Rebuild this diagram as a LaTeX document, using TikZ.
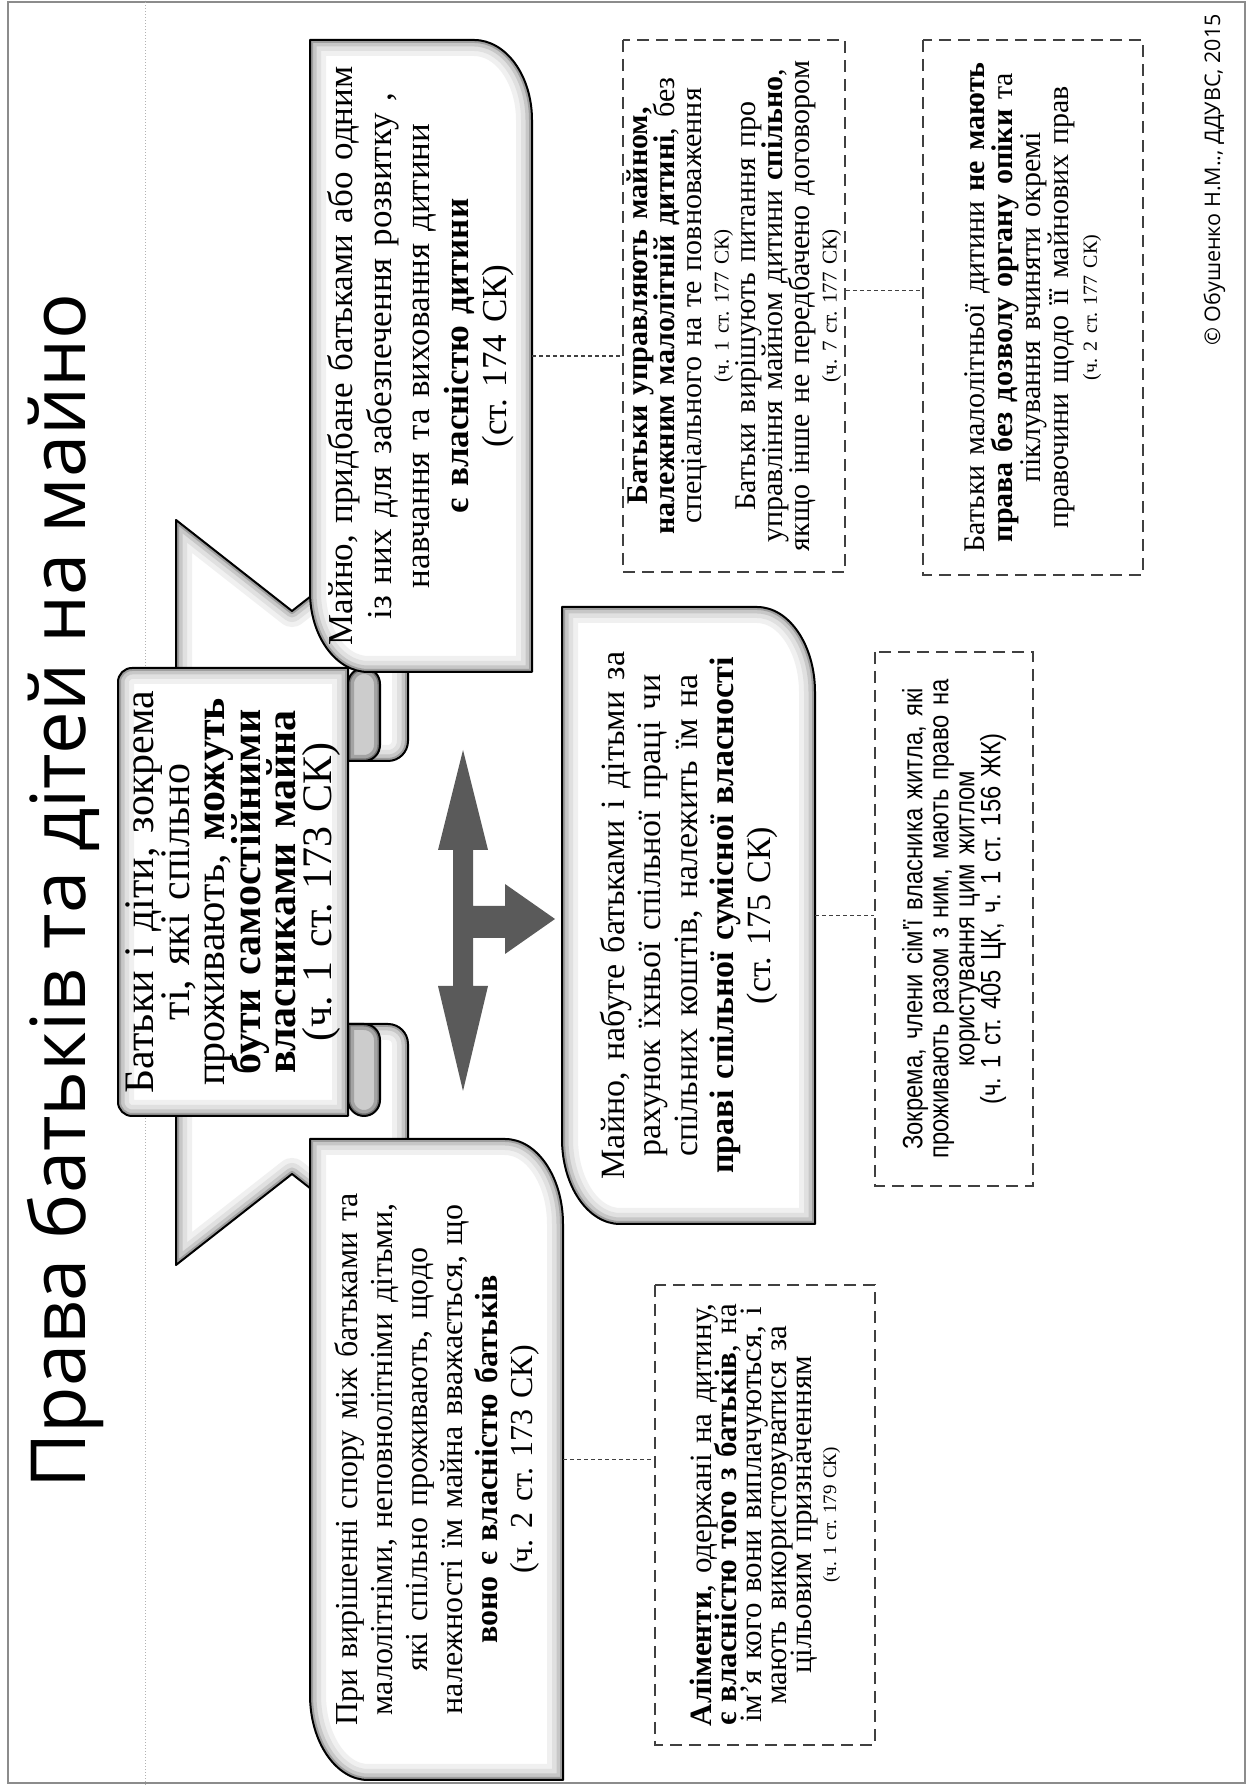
\documentclass[tikz,border=0pt]{standalone}
\usepackage{fontspec}
\setmainfont{Liberation Serif}
\newfontfamily\opensans{Open Sans}
\newfontfamily\narrowsans[FakeStretch=0.85]{Liberation Sans}
\usetikzlibrary{calc}
\definecolor{arrowgray}{HTML}{5A5A5A}
\definecolor{dashgray}{HTML}{404040}
\newcommand{\glowpath}[1]{%
  \fill[white] #1;
  \begin{scope}
    \clip #1;
    \draw[line width=32pt, black!6, line join=round] #1;
    \draw[line width=22pt, black!12, line join=round] #1;
    \draw[line width=13pt, black!22, line join=round] #1;
    \draw[line width=6pt, black!38, line join=round] #1;
  \end{scope}
  \draw[line width=2pt, black, line join=round] #1;
}
\newcommand{\tubepath}[1]{%
  \fill[black!20] #1;
  \begin{scope}
    \clip #1;
    \draw[line width=12pt, black!36] #1;
    \draw[line width=5pt, black!55] #1;
  \end{scope}
  \draw[line width=2pt, black, line join=round] #1;
}
\newcommand{\smallref}[2]{{\fontsize{#1}{#1}\selectfont\spaceskip=0.2em plus 0.05em\relax #2}}
\tikzset{
  tbox/.style={inner sep=0pt, align=center},
  dbox/.style={draw=dashgray, line width=1.6pt, dash pattern=on 12pt off 7pt, inner sep=0pt, align=center},
  conn/.style={draw=dashgray, line width=1.2pt, dash pattern=on 4pt off 3pt},
}
\begin{document}
\frenchspacing
\begin{tikzpicture}[x=1pt,y=1pt]
\begin{scope}[shift={(1248,0)}, rotate=90, every node/.style={transform shape}]
\useasboundingbox (0,0) rectangle (1785,1248);
\fill[white] (0,0) rectangle (1785,1248);
\draw[black!45, line width=2.5pt] (2,3) rectangle (1783,1240);
\draw[black!30, dotted, line width=1pt] (0,1103) -- (1785,1103);

% title and copyright
\node[anchor=base, inner sep=0pt, font={\opensans\fontsize{76}{80}\selectfont}] (title) at (894,1163) {Права батьків та дітей на майно};
\node[anchor=base, inner sep=0pt, font={\opensans\fontsize{21.5}{24}\selectfont}] (copy) at (1605,28) {© Обушенко Н.М.., ДДУВС, 2015};

% ribbon flags
\glowpath{(1024,1072) -- (1265,1072) -- (1174,956) -- (1265,840) -- (1044,840) arc[start angle=270, end angle=180, radius=20] -- cycle}
\glowpath{(761,1072) -- (520,1072) -- (611,956) -- (520,840) -- (741,840) arc[start angle=270, end angle=360, radius=20] -- cycle}
% scroll panel
\glowpath{(669,900) -- (669,1116) arc[start angle=180, end angle=90, radius=14] -- (1103,1130) arc[start angle=90, end angle=0, radius=14] -- (1117,900) -- cycle}
% curls
\tubepath{(1024,900) -- (1024,884) arc[start angle=180, end angle=270, radius=16] -- (1101,868) arc[start angle=-90, end angle=90, radius=16] -- cycle}
\tubepath{(761,900) -- (761,884) arc[start angle=0, end angle=-90, radius=16] -- (685,868) arc[start angle=270, end angle=90, radius=16] -- cycle}

% rounded boxes
\glowpath{(1113,880) arc[start angle=180, end angle=90, x radius=80, y radius=58] -- (1745,938) -- (1745,774) arc[start angle=0, end angle=-90, x radius=80, y radius=58] -- (1113,716) -- cycle}
\glowpath{(561,628) arc[start angle=180, end angle=90, x radius=85, y radius=58] -- (1178,686) -- (1178,491) arc[start angle=0, end angle=-90, x radius=85, y radius=58] -- (561,433) -- cycle}
\glowpath{(5,880) arc[start angle=180, end angle=90, x radius=85, y radius=58] -- (646,938) -- (646,743) arc[start angle=0, end angle=-90, x radius=85, y radius=58] -- (5,685) -- cycle}

% three-way arrow
\fill[arrowgray] (1035,785) -- (935,810) -- (935,795) -- (799,795) -- (799,810) -- (694,785) -- (799,760) -- (799,775) -- (847,775) -- (847,743) -- (831,743) -- (866,693) -- (901,743) -- (879,743) -- (879,775) -- (935,775) -- (935,760) -- cycle;

% text of shapes
\node[tbox, text width=448pt, minimum height=230pt, font={\fontsize{42}{35.5}\selectfont\lineskiplimit=-100pt}] (S) at (893,1015)
 {Батьки і діти, зокрема\\ ті, які спільно\\ проживають, \textbf{можуть}\\ \textbf{бути самостійними}\\ \textbf{власниками майна}\\ (ч. 1 ст. 173 СК)};
\node[tbox, text width=632pt, minimum height=222pt, font={\fontsize{35}{38.5}\selectfont\lineskiplimit=-100pt}] (A) at (1429,827)
 {Майно, придбане батьками або одним\\ із них для забезпечення розвитку ,\\ навчання та виховання дитини\\ \textbf{є власністю дитини}\\ (ст. 174 СК)};
\node[tbox, text width=617pt, minimum height=253pt, font={\fontsize{34}{36.5}\selectfont\lineskiplimit=-100pt}] (B) at (869.5,559.5)
 {Майно, набуте батьками і дітьми за\\ рахунок їхньої спільної праці чи\\ спільних коштів, належить їм на\\ \textbf{праві спільної сумісної власності}\\ (ст. 175 СК)};
\node[tbox, text width=641pt, minimum height=253pt, font={\fontsize{32}{35}\selectfont\lineskiplimit=-100pt}] (D) at (325.5,811.5)
 {При вирішенні спору між батьками та\\ малолітніми, неповнолітніми дітьми,\\ які спільно проживають, щодо\\ належності їм майна вважається, що\\ \textbf{воно є власністю батьків}\\ (ч. 2 ст. 173 СК)};

% dashed boxes
\node[dbox, text width=532pt, minimum height=222pt, font={\fontsize{30}{27}\selectfont\lineskiplimit=-100pt}] (E) at (1479,514)
 {\textbf{Батьки управляють майном,}\\ \textbf{належним малолітній дитині}, без\\ спеціального на те повноваження\\ \smallref{21}{(ч. 1 ст. 177 СК)}\\ Батьки вирішують питання про\\ управління майном дитини \textbf{спільно},\\ якщо інше не передбачено договором\\ \smallref{21}{(ч. 7 ст. 177 СК)}};
\node[dbox, text width=535pt, minimum height=220pt, font={\fontsize{30}{28}\selectfont\lineskiplimit=-100pt}] (F) at (1477.5,215)
 {Батьки малолітньої дитини \textbf{не мають}\\ \textbf{права без дозволу органу опіки} та\\ піклування вчиняти окремі\\ правочини щодо її майнових прав\\ \smallref{20}{(ч. 2 ст. 177 СК)}};
\node[dbox, text width=534pt, minimum height=158pt, font={\narrowsans\fontsize{28}{26}\selectfont\lineskiplimit=-100pt}] (G) at (866,294)
 {Зокрема, члени сім'ї власника житла, які\\ проживають разом з ним, мають право на\\ користування цим житлом\\ (ч. 1 ст. 405 ЦК, ч. 1 ст. 156 ЖК)};
\node[dbox, text width=460pt, minimum height=220pt, font={\fontsize{31}{25}\selectfont\lineskiplimit=-100pt}] (H) at (270,483)
 {\textbf{Аліменти}, одержані на дитину,\\ \textbf{є власністю того з батьків}, на\\ ім'я кого вони виплачуються, і\\ мають використовуватися за\\ цільовим призначенням\\ \smallref{19}{(ч. 1 ст. 179 СК)}};

% connectors
\draw[conn] (A.south) -- ($(E.north west)!(A.south)!(E.north east)$);
\draw[conn] ($(E.south west)!0.529!(E.south east)$) coordinate (ef) -- ($(F.north west)!(ef)!(F.north east)$);
\draw[conn] (B.south) -- ($(G.north west)!(B.south)!(G.north east)$);
\draw[conn] (D.south) -- ($(H.north west)!(D.south)!(H.north east)$);
\end{scope}
\end{tikzpicture}
\end{document}
